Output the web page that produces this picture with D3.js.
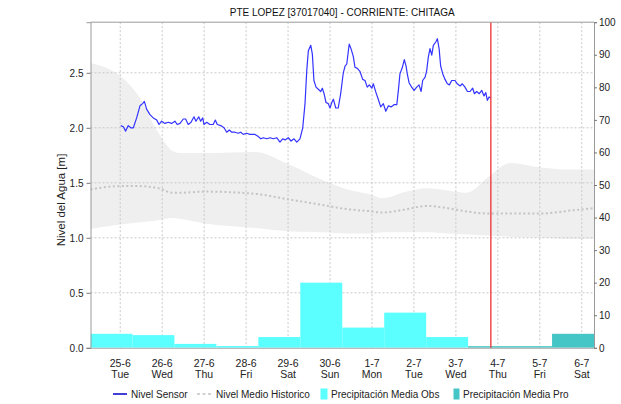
<!DOCTYPE html>
<html>
<head>
<meta charset="utf-8">
<script src="https://cdn.jsdelivr.net/npm/d3@7"></script>
<style>
  body { margin: 0; background: #fff; }
  svg { display: block; font-family: "Liberation Sans", Arial, sans-serif; }
</style>
</head>
<body>
<svg id="chart" width="621" height="404"></svg>
<script>
// ---- chart texts ----
const titleText = "PTE LOPEZ [37017040] - CORRIENTE: CHITAGA";
const yLabelText = "Nivel del Agua [m]";
const legendLabels = ["Nivel Sensor", "Nivel Medio Historico", "Precipitación Media Obs", "Precipitación Media Pro"];

// ---- axis ticks ----
const levelTicks = [0, 0.5, 1.0, 1.5, 2.0, 2.5];
const precipTicks = [0, 10, 20, 30, 40, 50, 60, 70, 80, 90, 100];
const dayTicks = ["2019-06-25", "2019-06-26", "2019-06-27", "2019-06-28", "2019-06-29", "2019-06-30",
                  "2019-07-01", "2019-07-02", "2019-07-03", "2019-07-04", "2019-07-05", "2019-07-06"];

// ---- time window and current time ----
const windowStart = "2019-06-24 07:00";
const windowEnd = "2019-07-06 07:00";
const nowTime = "2019-07-03 20:00";

// ---- sensor water level [m]; time as hours after sensorStart ----
const sensorStart = "2019-06-25 00:00";
const sensorHours = [
  0.3, 1.8, 3.1, 4.6, 6.0, 7.5, 9.4, 11.3, 12.8, 13.8,
  15.1, 17.0, 18.9, 20.9, 22.2, 23.7, 25.6, 27.5, 29.4, 31.3,
  32.6, 34.2, 36.1, 37.4, 38.9, 40.5, 42.2, 43.3, 44.9, 46.0,
  47.2, 47.9, 49.5, 51.3, 53.2, 54.4, 55.5, 57.5, 59.4, 60.9,
  62.4, 63.8, 65.6, 67.5, 68.9, 70.4, 72.3, 74.2, 77.1, 79.0,
  80.4, 81.8, 83.8, 85.7, 87.6, 89.5, 91.4, 92.9, 94.3, 96.1,
  97.7, 99.4, 101.0, 102.8, 104.4, 105.7, 106.7, 107.6, 109.0, 109.9,
  110.8, 112.0, 113.3, 114.7, 115.6, 116.6, 117.7, 119.0, 120.0, 121.0,
  121.9, 123.3, 124.7, 126.1, 127.6, 128.6, 129.6, 130.5, 131.0, 132.0,
  133.3, 134.3, 135.6, 137.2, 138.7, 140.0, 141.3, 142.5, 143.9, 144.8,
  146.3, 147.6, 149.0, 150.5, 151.9, 153.4, 154.9, 156.6, 158.2, 159.1,
  160.0, 161.4, 162.5, 163.5, 164.2, 165.2, 166.7, 168.1, 169.6, 170.9,
  172.1, 173.0, 174.4, 175.3, 176.2, 177.2, 178.2, 179.1, 180.5, 181.4,
  182.4, 183.3, 184.5, 185.8, 187.1, 188.3, 189.6, 191.5, 192.8, 194.4,
  195.7, 197.2, 198.6, 200.1, 201.6, 202.6, 203.9, 205.4, 206.8, 208.1,
  209.1, 210.0, 211.0, 211.9
];
const sensorLevel = [
  2.02, 2.01, 1.97, 2.02, 2.00, 2.00, 2.09, 2.20, 2.22, 2.24,
  2.17, 2.12, 2.09, 2.07, 2.03, 2.06, 2.04, 2.05, 2.04, 2.06,
  2.03, 2.04, 2.08, 2.08, 2.03, 2.05, 2.10, 2.06, 2.10, 2.06,
  2.09, 2.03, 2.05, 2.03, 2.03, 2.07, 2.03, 2.02, 2.00, 1.96,
  1.98, 1.96, 1.96, 1.95, 1.96, 1.94, 1.95, 1.94, 1.94, 1.92,
  1.90, 1.91, 1.90, 1.91, 1.90, 1.91, 1.87, 1.90, 1.89, 1.91,
  1.88, 1.90, 1.87, 1.90, 2.00, 2.22, 2.52, 2.70, 2.75, 2.67,
  2.43, 2.37, 2.35, 2.33, 2.36, 2.31, 2.23, 2.22, 2.18, 2.23,
  2.26, 2.18, 2.18, 2.31, 2.50, 2.56, 2.58, 2.70, 2.76, 2.72,
  2.65, 2.55, 2.54, 2.51, 2.44, 2.43, 2.37, 2.39, 2.36, 2.40,
  2.32, 2.26, 2.19, 2.22, 2.15, 2.20, 2.19, 2.21, 2.21, 2.34,
  2.49, 2.55, 2.62, 2.56, 2.49, 2.41, 2.37, 2.34, 2.37, 2.39,
  2.33, 2.43, 2.46, 2.52, 2.64, 2.72, 2.66, 2.75, 2.78, 2.81,
  2.72, 2.56, 2.49, 2.44, 2.40, 2.39, 2.43, 2.43, 2.40, 2.38,
  2.40, 2.37, 2.33, 2.33, 2.36, 2.31, 2.33, 2.31, 2.34, 2.29,
  2.32, 2.25, 2.28, 2.27
];

// ---- historical level: range band and mean [m] ----
const histTimes = [
  "2019-06-24 07:00", "2019-06-25 00:00", "2019-06-25 10:00", "2019-06-25 22:00", "2019-06-26 06:00",
  "2019-06-26 11:00", "2019-06-27 00:00", "2019-06-28 05:00", "2019-06-29 00:00", "2019-06-29 19:00",
  "2019-06-30 10:00", "2019-07-01 00:00", "2019-07-01 06:00", "2019-07-01 20:00", "2019-07-02 07:00",
  "2019-07-02 19:00", "2019-07-03 06:00", "2019-07-03 19:00", "2019-07-04 07:00", "2019-07-05 00:00",
  "2019-07-05 19:00", "2019-07-06 07:00"
];
const histUpper = [2.59, 2.47, 2.30, 1.95, 1.79, 1.77, 1.77, 1.78, 1.67, 1.53,
                   1.44, 1.39, 1.36, 1.42, 1.45, 1.43, 1.41, 1.56, 1.68, 1.64, 1.62, 1.62];
const histLower = [1.08, 1.12, 1.14, 1.16, 1.18, 1.17, 1.13, 1.09, 1.06, 1.05,
                   1.04, 1.04, 1.05, 1.05, 1.05, 1.04, 1.03, 1.02, 1.01, 1.00, 0.99, 0.99];
const histMean  = [1.44, 1.47, 1.47, 1.45, 1.41, 1.41, 1.42, 1.40, 1.35, 1.30,
                   1.26, 1.24, 1.23, 1.26, 1.29, 1.27, 1.24, 1.22, 1.22, 1.22, 1.25, 1.27];

// ---- daily precipitation (07:00 to 07:00), observed and forecast ----
const precipStarts = [
  "2019-06-24 07:00", "2019-06-25 07:00", "2019-06-26 07:00", "2019-06-27 07:00",
  "2019-06-28 07:00", "2019-06-29 07:00", "2019-06-30 07:00", "2019-07-01 07:00",
  "2019-07-02 07:00", "2019-07-03 07:00", "2019-07-04 07:00", "2019-07-05 07:00"
];
const precipObs = [4.3, 3.9, 1.2, 0.55, 3.3, 20.0, 6.2, 10.8, 3.3, null, null, null];
const precipPro = [null, null, null, null, null, null, null, null, null, 0.5, 0.5, 4.3];

// ---- drawing ----
const parse = d3.timeParse("%Y-%m-%d %H:%M");
const parseDay = d3.timeParse("%Y-%m-%d");
const svg = d3.select("#chart");

const plot = { left: 90.5, right: 594, top: 22.2, bottom: 347.8 };

const x = d3.scaleTime()
  .domain([parse(windowStart), parse(windowEnd)])
  .range([plot.left, plot.right]);
const yLevel = d3.scaleLinear().domain([0, 2.96]).range([plot.bottom, plot.top]);
const yPrecip = d3.scaleLinear().domain([0, 100]).range([plot.bottom, plot.top]);

const C = {
  band: "#efefef",
  grid: "#c8c8c8",
  mean: "#c4c4c4",
  sensor: "#3333ff",
  obs: "#5bffff",
  pro: "#45c6c6",
  now: "#ee3030",
  frame: "#9a9a9a",
  text: "#222"
};

svg.append("defs").append("clipPath").attr("id", "plotClip")
  .append("rect")
  .attr("x", plot.left).attr("y", plot.top)
  .attr("width", plot.right - plot.left).attr("height", plot.bottom - plot.top);

const g = svg.append("g").attr("clip-path", "url(#plotClip)");

// historical range band
const hist = histTimes.map((t, i) => ({ t: parse(t), hi: histUpper[i], lo: histLower[i], m: histMean[i] }));
g.append("path")
  .datum(hist)
  .attr("fill", C.band)
  .attr("d", d3.area()
    .x(d => x(d.t))
    .y0(d => yLevel(d.lo))
    .y1(d => yLevel(d.hi))
    .curve(d3.curveMonotoneX));

// grid
g.append("g").selectAll("line").data(levelTicks.filter(v => v > 0)).join("line")
  .attr("x1", plot.left).attr("x2", plot.right)
  .attr("y1", d => yLevel(d)).attr("y2", d => yLevel(d))
  .attr("stroke", C.grid).attr("stroke-width", 1).attr("stroke-dasharray", "2,2");
g.append("g").selectAll("line").data(dayTicks.map(parseDay)).join("line")
  .attr("x1", d => x(d)).attr("x2", d => x(d))
  .attr("y1", plot.top).attr("y2", plot.bottom)
  .attr("stroke", C.grid).attr("stroke-width", 1).attr("stroke-dasharray", "2,2");

// historical mean
g.append("path")
  .datum(hist)
  .attr("fill", "none")
  .attr("stroke", C.mean)
  .attr("stroke-width", 2)
  .attr("stroke-dasharray", "2,2.5")
  .attr("d", d3.line().x(d => x(d.t)).y(d => yLevel(d.m)).curve(d3.curveMonotoneX));

// precipitation bars
const dayMs = 24 * 3600 * 1000;
const bars = precipStarts.map((s, i) => ({ t0: parse(s), t1: new Date(+parse(s) + dayMs), obs: precipObs[i], pro: precipPro[i] }));
g.append("g").selectAll("rect").data(bars.filter(d => d.obs != null)).join("rect")
  .attr("x", d => x(d.t0)).attr("width", d => x(d.t1) - x(d.t0))
  .attr("y", d => yPrecip(d.obs)).attr("height", d => yPrecip(0) - yPrecip(d.obs))
  .attr("fill", C.obs);
g.append("g").selectAll("rect").data(bars.filter(d => d.pro != null)).join("rect")
  .attr("x", d => x(d.t0)).attr("width", d => x(d.t1) - x(d.t0))
  .attr("y", d => yPrecip(d.pro)).attr("height", d => yPrecip(0) - yPrecip(d.pro))
  .attr("fill", C.pro);

// sensor level
const s0 = parse(sensorStart);
const sensor = sensorLevel.map((v, i) => ({ t: new Date(+s0 + sensorHours[i] * 3600 * 1000), v }));
g.append("path")
  .datum(sensor)
  .attr("fill", "none")
  .attr("stroke", C.sensor)
  .attr("stroke-width", 1.2)
  .attr("stroke-linejoin", "round")
  .attr("d", d3.line().x(d => x(d.t)).y(d => yLevel(d.v)));

// current time marker
svg.append("line")
  .attr("x1", x(parse(nowTime))).attr("x2", x(parse(nowTime)))
  .attr("y1", plot.top).attr("y2", plot.bottom)
  .attr("stroke", C.now).attr("stroke-width", 1.3);

// frame
svg.append("line").attr("x1", plot.left).attr("x2", plot.right).attr("y1", plot.top).attr("y2", plot.top)
  .attr("stroke", C.frame).attr("stroke-width", 1);
svg.append("line").attr("x1", plot.left).attr("x2", plot.right).attr("y1", plot.bottom + 0.5).attr("y2", plot.bottom + 0.5)
  .attr("stroke", "#555").attr("stroke-width", 1).attr("stroke-dasharray", "1,1");

// left axis
const axisL = svg.append("g").attr("transform", `translate(${plot.left},0)`)
  .call(d3.axisLeft(yLevel).tickValues(levelTicks).tickFormat(d3.format(".1f")).tickSize(4).tickPadding(3));
axisL.select(".domain").attr("stroke", C.frame);
axisL.selectAll(".tick line").attr("stroke", "#777");
axisL.selectAll("text").attr("fill", C.text)
  .style("font-family", '"Liberation Sans Narrow", "Liberation Sans", Arial, sans-serif').style("font-size", "10px");

// right axis
const axisR = svg.append("g").attr("transform", `translate(${plot.right},0)`)
  .call(d3.axisRight(yPrecip).tickValues(precipTicks).tickSize(3).tickPadding(2));
axisR.select(".domain").attr("stroke", C.frame);
axisR.selectAll(".tick line").attr("stroke", "#777");
axisR.selectAll("text").attr("fill", C.text)
  .style("font-family", '"Liberation Sans Narrow", "Liberation Sans", Arial, sans-serif').style("font-size", "10px");

// bottom axis labels: day-month and weekday
const fmtDay = d3.timeFormat("%-d-%-m");
const fmtWeek = d3.timeFormat("%a");
const xLab = svg.append("g")
  .style("font-family", '"Liberation Sans Narrow", "Liberation Sans", Arial, sans-serif')
  .style("font-size", "10.5px").attr("fill", C.text).attr("text-anchor", "middle");
xLab.selectAll("text.d").data(dayTicks.map(parseDay)).join("text").attr("class", "d")
  .attr("x", d => x(d)).attr("y", 366.5).text(d => fmtDay(d));
xLab.selectAll("text.w").data(dayTicks.map(parseDay)).join("text").attr("class", "w")
  .attr("x", d => x(d)).attr("y", 378).text(d => fmtWeek(d));

// y label
svg.append("text")
  .attr("transform", `translate(65,200) rotate(-90)`)
  .attr("text-anchor", "middle")
  .attr("fill", C.text)
  .style("font-size", "11.5px")
  .text(yLabelText);

// title
svg.append("text")
  .attr("x", (plot.left + plot.right) / 2).attr("y", 15.5)
  .attr("text-anchor", "middle")
  .attr("fill", "#111")
  .style("font-size", "10px")
  .text(titleText);

// legend
const lg = svg.append("g").style("font-size", "10px").attr("fill", C.text);
const ly = 394;
lg.append("line").attr("x1", 113).attr("x2", 127).attr("y1", ly).attr("y2", ly)
  .attr("stroke", "#0000cc").attr("stroke-width", 1.5);
lg.append("text").attr("x", 131).attr("y", ly + 3.6).text(legendLabels[0]);
lg.append("line").attr("x1", 197).attr("x2", 213).attr("y1", ly).attr("y2", ly)
  .attr("stroke", C.mean).attr("stroke-width", 1.5).attr("stroke-dasharray", "3,2.5");
lg.append("text").attr("x", 216).attr("y", ly + 3.6).text(legendLabels[1]);
lg.append("rect").attr("x", 320.5).attr("y", ly - 5.5).attr("width", 7).attr("height", 11).attr("fill", C.obs);
lg.append("text").attr("x", 331).attr("y", ly + 3.6).text(legendLabels[2]);
lg.append("rect").attr("x", 453.5).attr("y", ly - 5.5).attr("width", 6).attr("height", 11).attr("fill", C.pro);
lg.append("text").attr("x", 463).attr("y", ly + 3.6).text(legendLabels[3]);
</script>
</body>
</html>
